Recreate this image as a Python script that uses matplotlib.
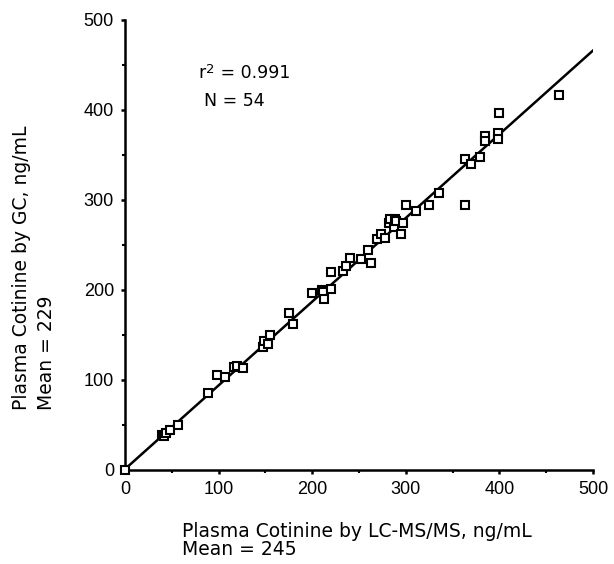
import numpy as np
import matplotlib
matplotlib.use('Agg')
import matplotlib.pyplot as plt
from matplotlib.ticker import MultipleLocator

plt.rcParams['font.family'] = ['Liberation Sans', 'DejaVu Sans']
label_font = ['DejaVu Sans']   # the labels in the picture run wide

# LC-MS/MS (x) vs GC (y), ng/mL
lcms = [0, 39, 42, 44, 48, 57, 89, 98, 107, 116, 120, 126, 147, 148, 153, 155,
        175, 180, 200, 210, 212, 213, 220, 220, 233, 236, 240, 252, 260, 263,
        269, 274, 278, 282, 283, 288, 287, 290, 295, 297, 300, 311, 325, 335,
        363, 363, 370, 379, 385, 385, 399, 399, 400, 464]
gc = [0, 39, 38, 41, 44, 50, 86, 105, 103, 114, 115, 113, 137, 143, 140, 150,
      174, 162, 197, 200, 198, 190, 201, 220, 221, 227, 235, 234, 244, 230,
      257, 262, 258, 274, 279, 279, 270, 277, 262, 274, 294, 288, 294, 308,
      294, 346, 340, 348, 371, 365, 374, 368, 397, 417]

fit_x = [0, 500]
slope, intercept = 0.93, 1.0

fig = plt.figure(figsize=(6.14, 5.64), dpi=100)
ax = fig.add_axes([0.2036, 0.1667, 0.7622, 0.798])

fit_y = [slope * v + intercept for v in fit_x]
ax.plot(fit_x, fit_y, color='black', lw=1.8, zorder=2)
ax.plot(lcms, gc, linestyle='none', marker='s', ms=5.5, mew=1.5,
        mec='black', mfc='white', clip_on=False, zorder=3)

ax.set_xlim(0, 500)
ax.set_ylim(0, 500)
ax.xaxis.set_major_locator(MultipleLocator(100))
ax.yaxis.set_major_locator(MultipleLocator(100))
ax.xaxis.set_minor_locator(MultipleLocator(50))
ax.yaxis.set_minor_locator(MultipleLocator(50))

for s in ['top', 'right']:
    ax.spines[s].set_visible(False)
for s in ['left', 'bottom']:
    ax.spines[s].set_linewidth(1.8)

ax.tick_params(which='major', direction='out', length=3, width=1.8, labelsize=13)
ax.tick_params(which='minor', direction='out', length=2, width=1.5)
ax.tick_params(axis='x', which='major', pad=5)
ax.tick_params(axis='y', which='major', pad=5)

# r^2 with a larger superscript than mathtext gives
t_r = ax.text(78, 436, 'r', fontsize=12.5, family=label_font, ha='left', va='baseline')
ax.annotate('2', xy=(1, 0), xycoords=t_r, xytext=(0.8, 4.2),
            textcoords='offset points', fontsize=9.5, family=label_font,
            ha='left', va='bottom')
ax.annotate(' = 0.991', xy=(1, 0), xycoords=t_r, xytext=(7.0, 0),
            textcoords='offset points', fontsize=12.5, family=label_font,
            ha='left', va='bottom')
ax.text(84.4, 404.7, 'N = 54', fontsize=12.5, family=label_font, ha='left', va='baseline')

fig.text(182 / 614, 1 - 536.7 / 564, 'Plasma Cotinine by LC-MS/MS, ng/mL',
         fontsize=13.5, family=label_font, ha='left', va='baseline')
fig.text(182 / 614, 1 - 555 / 564, 'Mean = 245',
         fontsize=13.5, family=label_font, ha='left', va='baseline')

fig.text(26.7 / 614, 1 - 410 / 564, 'Plasma Cotinine by GC, ng/mL', fontsize=13.5,
         family=label_font, rotation=90, rotation_mode='anchor', ha='left', va='baseline')
fig.text(51.7 / 614, 1 - 410 / 564, 'Mean = 229', fontsize=13.5,
         family=label_font, rotation=90, rotation_mode='anchor', ha='left', va='baseline')

fig.savefig('out.png', dpi=100)
